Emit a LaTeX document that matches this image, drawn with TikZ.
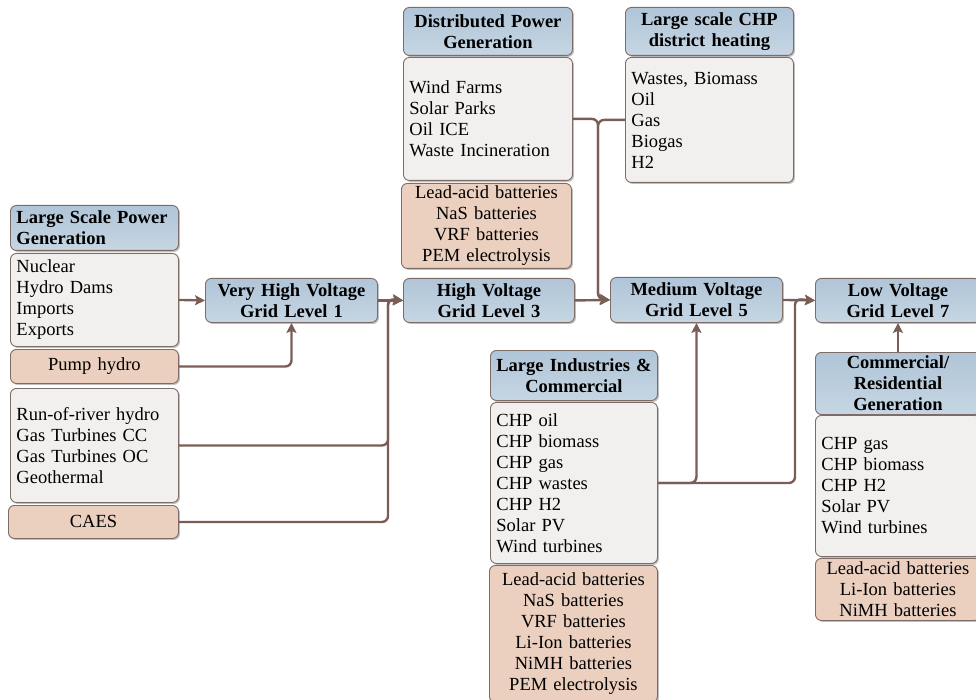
\documentclass[tikz,border=0pt]{standalone}
\usepackage{fontspec}
\setmainfont{Liberation Serif}
\usetikzlibrary{shadows,arrows.meta}
\definecolor{hdrtop}{HTML}{B0C5D8}
\definecolor{hdrbot}{HTML}{C6D6E3}
\definecolor{bodycol}{HTML}{F1F0EF}
\definecolor{storecol}{HTML}{EBCFBF}
\definecolor{bordcol}{HTML}{7E6C66}
\definecolor{conncol}{HTML}{7A5E55}
\tikzset{
  box/.style={rounded corners=6pt, draw=bordcol, line width=0.9pt, inner xsep=6pt, inner ysep=1pt,
    anchor=north west, font=\fontsize{18.5}{21}\selectfont,
    drop shadow={shadow xshift=1.5pt, shadow yshift=-1.5pt, fill=black, opacity=0.25}},
  hdr/.style={box, top color=hdrtop, bottom color=hdrbot, font=\fontsize{18.5}{21}\selectfont\bfseries, align=center},
  lst/.style={box, fill=bodycol, align=left},
  sto/.style={box, fill=storecol, align=center},
  conn/.style={draw=conncol, line width=2.4pt, rounded corners=6pt, -{Stealth[length=10pt,width=10pt,inset=2pt]}}
}
\begin{document}
\begin{tikzpicture}[x=1pt,y=-1pt]
\useasboundingbox (0,0) rectangle (976,700);
\clip (0,0) rectangle (976,700);
% left column
\node[hdr, align=left, text width=156pt, minimum height=45pt] (lsh) at (10,205) {Large Scale Power\\Generation};
\node[lst, text width=156pt, minimum height=93pt] (lsb) at (10,253) {Nuclear\\Hydro Dams\\Imports\\Exports};
\node[sto, text width=156pt, minimum height=34pt] (pump) at (10,349) {Pump hydro};
\node[lst, text width=156pt, minimum height=114pt] (ror) at (10,388) {Run-of-river hydro\\Gas Turbines CC\\Gas Turbines OC\\Geothermal};
\node[sto, text width=158pt, minimum height=33pt] (caes) at (8,505) {CAES};
% grid levels
\node[hdr, text width=160pt, minimum height=44pt] (vhv) at (205,278) {Very High Voltage\\Grid Level 1};
\node[hdr, text width=159pt, minimum height=44pt] (hv) at (403,278) {High Voltage\\Grid Level 3};
\node[hdr, text width=160pt, minimum height=45pt] (mv) at (610,277) {Medium Voltage\\Grid Level 5};
\node[hdr, text width=153pt, minimum height=44pt] (lv) at (815,278) {Low Voltage\\Grid Level 7};
% distributed
\node[hdr, text width=157pt, minimum height=48pt] (dph) at (403,7) {Distributed Power\\Generation};
\node[lst, text width=157pt, minimum height=123pt] (dpb) at (403,57) {Wind Farms\\Solar Parks\\Oil ICE\\Waste Incineration};
\node[sto, text width=158pt, minimum height=85pt] (dps) at (401,183) {Lead-acid batteries\\NaS batteries\\VRF batteries\\PEM electrolysis};
% CHP
\node[hdr, text width=156pt, minimum height=48pt] (chph) at (625,7) {Large scale CHP\\district heating};
\node[lst, text width=156pt, minimum height=125pt] (chpb) at (625,57) {Wastes, Biomass\\Oil\\Gas\\Biogas\\H2};
% large industries
\node[hdr, inner xsep=2pt, text width=163pt, minimum height=50pt] (lih) at (490,350) {\mbox{Large Industries \&}\\Commercial};
\node[lst, text width=155pt, minimum height=161pt] (lib) at (490,402) {CHP oil\\CHP biomass\\CHP gas\\CHP wastes\\CHP H2\\Solar PV\\Wind turbines};
\node[sto, text width=156pt, minimum height=137pt] (lis) at (489,565) {Lead-acid batteries\\NaS batteries\\VRF batteries\\Li-Ion batteries\\NiMH batteries\\PEM electrolysis};
% commercial / residential
\node[hdr, text width=153pt, minimum height=62pt] (crh) at (815,352) {Commercial/\\Residential\\Generation};
\node[lst, text width=153pt, minimum height=141pt] (crb) at (815,415) {CHP gas\\CHP biomass\\CHP H2\\Solar PV\\Wind turbines};
\node[sto, text width=153pt, minimum height=62pt] (crs) at (815,558) {Lead-acid batteries\\Li-Ion batteries\\NiMH batteries};
% junctions
\coordinate (j1) at (388,299);
\coordinate (j3) at (598,299);
\coordinate (j5) at (795,299);
% connectors
\draw[conn] (lsb.east) -- (vhv.west);
\draw[conn] (pump.east) -| (vhv.south);
\draw[conn] (vhv.east) -- (hv.west);
\draw[conn] (ror.east) -| (j1) -- (hv.west);
\draw[conn] (caes.east) -| (j1) -- (hv.west);
\draw[conn] (hv.east) -- (mv.west);
\draw[conn] (dpb.east) -| (j3) -- (mv.west);
\draw[conn] (chpb.west) -| (j3) -- (mv.west);
\draw[conn] (lib.east) -| (mv.south);
\draw[conn] (lib.east) -| (j5) -- (lv.west);
\draw[conn] (mv.east) -- (lv.west);
\draw[conn] (crh.north) -- (lv.south);
\end{tikzpicture}
\end{document}
